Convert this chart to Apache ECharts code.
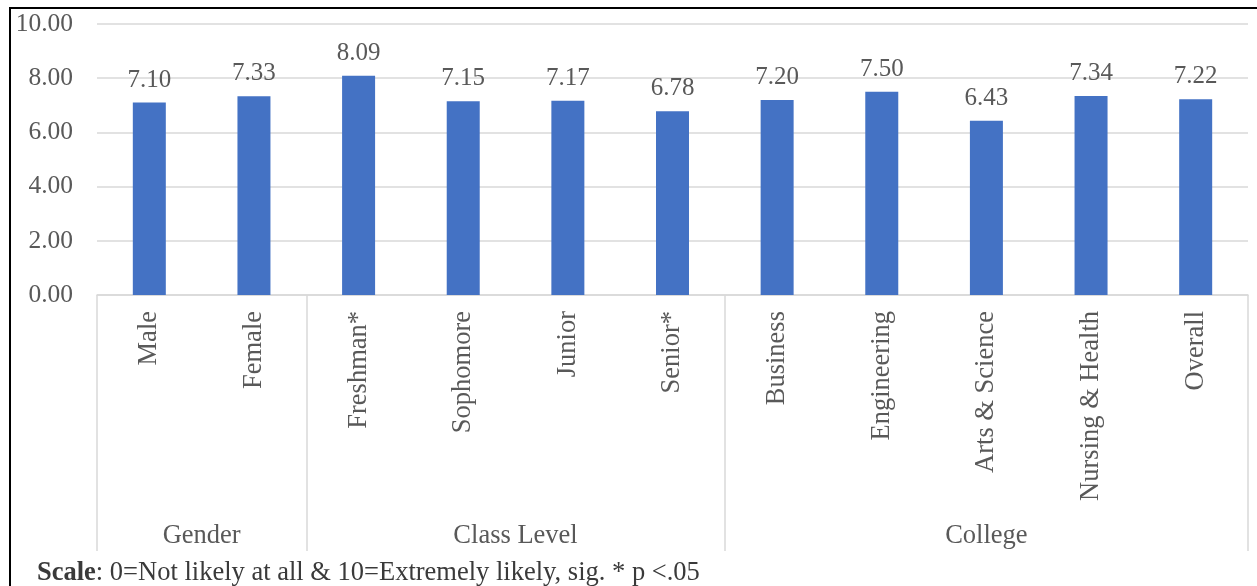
<!DOCTYPE html>
<html>
<head>
<meta charset="utf-8">
<title>Likelihood ratings by group</title>
<script src="https://cdn.jsdelivr.net/npm/echarts@6/dist/echarts.min.js"></script>
<style>
  html, body { margin: 0; padding: 0; background: #fff; }
  #chart { width: 1257px; height: 586px; }
</style>
</head>
<body>
<div id="chart"></div>
<script>
// Categories, in display order
const categories = ['Male', 'Female', 'Freshman*', 'Sophomore', 'Junior', 'Senior*',
  'Business', 'Engineering', 'Arts & Science', 'Nursing & Health', 'Overall'];
// Mean ratings (0-10 scale)
const values = [7.10, 7.33, 8.09, 7.15, 7.17, 6.78, 7.20, 7.50, 6.43, 7.34, 7.22];
// Group headings and how many categories each spans
const groupNames = ['Gender', 'Class Level', 'College'];
const groupSizes = [2, 4, 5];
// Value axis ticks
const yTicks = [0, 2, 4, 6, 8, 10];

const FONT = "'Liberation Serif', 'Times New Roman', serif";
const TEXT = '#595959';
const GRID = '#d9d9d9';

// Half-band point axis for group headings: point k sits k/2 bands from the left edge
const halfPoints = [];
const boundaryIdx = [0];
const centerIdx = {};
let pos = 0;
groupSizes.forEach((n, i) => {
  centerIdx[pos + n] = groupNames[i];
  pos += 2 * n;
  boundaryIdx.push(pos);
});
for (let k = 0; k <= pos; k++) halfPoints.push(centerIdx[k] || '');

const chart = echarts.init(document.getElementById('chart'));
chart.setOption({
  animation: false,
  grid: { left: 97, right: 9, top: 24, bottom: 291 },
  title: {
    text: '{b|Scale}: 0=Not likely at all & 10=Extremely likely, sig. * p <.05',
    left: 32, top: 555,
    textStyle: {
      fontFamily: FONT, fontSize: 26.5, color: '#3a3a3a', fontWeight: 'normal',
      rich: { b: { fontFamily: FONT, fontSize: 26.5, color: '#3a3a3a', fontWeight: 'bold' } }
    }
  },
  graphic: [{
    type: 'rect', silent: true, z: -1,
    shape: { x: 10, y: 8, width: 1262, height: 600 },
    style: { fill: 'none', stroke: '#000', lineWidth: 2 }
  }],
  xAxis: [{
    type: 'category',
    data: categories,
    axisLine: { lineStyle: { color: GRID, width: 1.5 } },
    axisTick: { show: false },
    axisLabel: {
      interval: 0, rotate: 90, margin: 16,
      fontFamily: FONT, fontSize: 26.5, color: TEXT
    }
  }, {
    type: 'category',
    position: 'bottom',
    boundaryGap: false,
    data: halfPoints,
    axisLine: { show: false },
    axisTick: {
      show: true, inside: false, length: 256,
      interval: (idx) => boundaryIdx.indexOf(idx) >= 0,
      lineStyle: { color: GRID, width: 1.5 }
    },
    axisLabel: {
      interval: 0, margin: 228,
      fontFamily: FONT, fontSize: 26.5, color: TEXT
    }
  }],
  yAxis: {
    type: 'value',
    min: yTicks[0], max: yTicks[yTicks.length - 1], interval: yTicks[1] - yTicks[0],
    axisLine: { show: false },
    axisTick: { show: false },
    splitLine: { lineStyle: { color: GRID, width: 1.5 } },
    axisLabel: {
      margin: 24, fontFamily: FONT, fontSize: 25.5, color: TEXT,
      formatter: (v) => v.toFixed(2)
    }
  },
  series: [{
    type: 'bar',
    data: values,
    barWidth: 33,
    itemStyle: { color: '#4472C4' },
    label: {
      show: true, position: 'top', distance: 10,
      fontFamily: FONT, fontSize: 25, color: TEXT,
      formatter: (p) => p.value.toFixed(2)
    }
  }]
});
</script>
</body>
</html>
